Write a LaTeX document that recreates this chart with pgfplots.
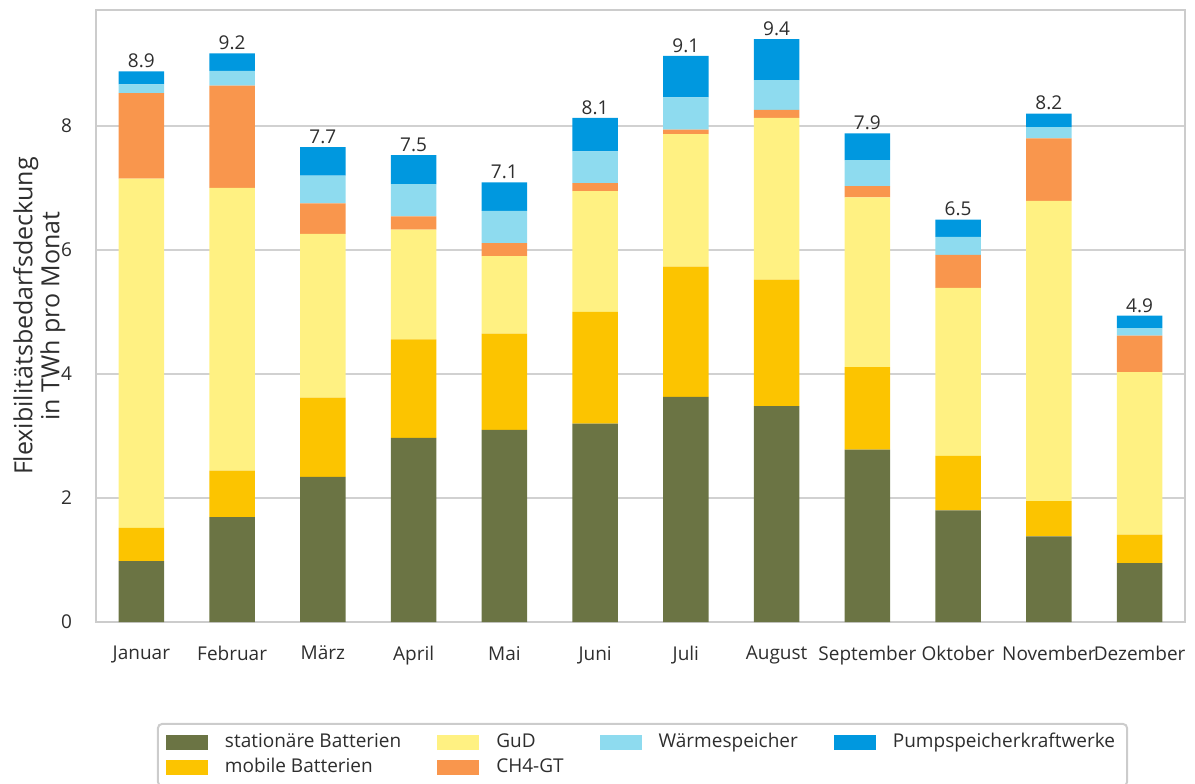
\documentclass[border=0pt]{standalone}
\usepackage{fontspec}
\setmainfont{Open Sans}
\usepackage{pgfplots}
\pgfplotsset{compat=1.18}

\definecolor{statc}{HTML}{6B7444}
\definecolor{mobc}{HTML}{FCC400}
\definecolor{gudc}{HTML}{FFF182}
\definecolor{chc}{HTML}{F9964D}
\definecolor{waec}{HTML}{8EDBEF}
\definecolor{pumpc}{HTML}{0098DF}
\definecolor{framec}{HTML}{CCCCCC}
\definecolor{txtc}{HTML}{2E2E2E}

\begin{document}
\begin{tikzpicture}
\begin{axis}[
  at={(0pt,0pt)}, anchor=south west,
  scale only axis, width=544.5pt, height=306pt,
  ybar stacked, bar width=0.5,
  xmin=-0.5, xmax=11.5, ymin=0, ymax=9.87,
  xtick={0,...,11},
  xticklabels={Januar,Februar,März,April,Mai,Juni,Juli,August,September,Oktober,November,Dezember},
  ytick={0,2,4,6,8},
  major tick length=0pt,
  axis line style={draw=framec, line width=1.2pt},
  ymajorgrids, grid style={draw=framec!90, line width=1pt},
  /pgf/number format/assume math mode=true,
  tick label style={font=\fontsize{9.5}{11}\selectfont, text=txtc},
  xticklabel style={yshift=-8.5pt},
  yticklabel style={xshift=-8.5pt},
  ylabel={Flexibilitätsbedarfsdeckung\\in TWh pro Monat},
  ylabel style={at={(axis description cs:-0.052,0.5)}, anchor=center, align=center,
                font=\fontsize{12.5}{12}\selectfont, text=txtc},
  legend columns=4,
  legend cell align=left,
  legend style={at={(axis description cs:0.056,-0.165)}, anchor=north west,
                draw=framec, line width=1pt, rounded corners=2pt,
                font=\fontsize{9.5}{11}\selectfont, text=txtc,
                inner xsep=4pt, inner ysep=3pt,
                /tikz/every even column/.append style={column sep=16pt},
                nodes={inner sep=2pt, text height=7pt, text depth=1.5pt}},
]
\addplot[fill=statc, draw=none, forget plot] coordinates {
  (0,0.98)(1,1.69)(2,2.34)(3,2.97)(4,3.10)(5,3.20)(6,3.63)(7,3.48)(8,2.78)(9,1.80)(10,1.38)(11,0.95)};
\addplot[fill=mobc, draw=none, forget plot] coordinates {
  (0,0.54)(1,0.75)(2,1.28)(3,1.59)(4,1.55)(5,1.80)(6,2.10)(7,2.04)(8,1.33)(9,0.88)(10,0.57)(11,0.46)};
\addplot[fill=gudc, draw=none, forget plot] coordinates {
  (0,5.63)(1,4.56)(2,2.64)(3,1.77)(4,1.25)(5,1.95)(6,2.14)(7,2.61)(8,2.74)(9,2.71)(10,4.84)(11,2.62)};
\addplot[fill=chc, draw=none, forget plot] coordinates {
  (0,1.38)(1,1.65)(2,0.49)(3,0.21)(4,0.21)(5,0.13)(6,0.07)(7,0.13)(8,0.18)(9,0.53)(10,1.01)(11,0.59)};
\addplot[fill=waec, draw=none, forget plot] coordinates {
  (0,0.14)(1,0.24)(2,0.45)(3,0.52)(4,0.52)(5,0.51)(6,0.52)(7,0.48)(8,0.42)(9,0.29)(10,0.18)(11,0.12)};
\addplot[fill=pumpc, draw=none, forget plot] coordinates {
  (0,0.21)(1,0.28)(2,0.46)(3,0.47)(4,0.46)(5,0.54)(6,0.67)(7,0.66)(8,0.43)(9,0.28)(10,0.22)(11,0.20)};

\addlegendimage{legend image code/.code={\fill[statc, sharp corners] (0pt,-3.25pt) rectangle (20pt,3.25pt); \path (26.5pt,0pt);}}
\addlegendentry{stationäre Batterien}
\addlegendimage{legend image code/.code={\fill[gudc, sharp corners] (0pt,-3.25pt) rectangle (20pt,3.25pt); \path (26.5pt,0pt);}}
\addlegendentry{GuD}
\addlegendimage{legend image code/.code={\fill[waec, sharp corners] (0pt,-3.25pt) rectangle (20pt,3.25pt); \path (26.5pt,0pt);}}
\addlegendentry{Wärmespeicher}
\addlegendimage{legend image code/.code={\fill[pumpc, sharp corners] (0pt,-3.25pt) rectangle (20pt,3.25pt); \path (26.5pt,0pt);}}
\addlegendentry{Pumpspeicherkraftwerke}
\addlegendimage{legend image code/.code={\fill[mobc, sharp corners] (0pt,-3.25pt) rectangle (20pt,3.25pt); \path (26.5pt,0pt);}}
\addlegendentry{mobile Batterien}
\addlegendimage{legend image code/.code={\fill[chc, sharp corners] (0pt,-3.25pt) rectangle (20pt,3.25pt); \path (26.5pt,0pt);}}
\addlegendentry{CH4-GT}
\end{axis}

% totals above the bars
\begin{axis}[
  at={(0pt,0pt)}, anchor=south west,
  scale only axis, width=544.5pt, height=306pt,
  xmin=-0.5, xmax=11.5, ymin=0, ymax=9.87,
  hide axis,
]
\addplot[only marks, mark=none, nodes near coords, point meta=explicit symbolic,
  nodes near coords style={anchor=south, inner sep=1.5pt, text=txtc, font=\fontsize{9.5}{11}\selectfont}]
  coordinates {
  (0,8.88)[8.9](1,9.17)[9.2](2,7.66)[7.7](3,7.53)[7.5](4,7.09)[7.1](5,8.13)[8.1]
  (6,9.13)[9.1](7,9.40)[9.4](8,7.88)[7.9](9,6.49)[6.5](10,8.20)[8.2](11,4.94)[4.9]};
\end{axis}
\pgfresetboundingbox
\path (-48pt,-80.5pt) rectangle (549.5pt,311pt);
\end{tikzpicture}
\end{document}
